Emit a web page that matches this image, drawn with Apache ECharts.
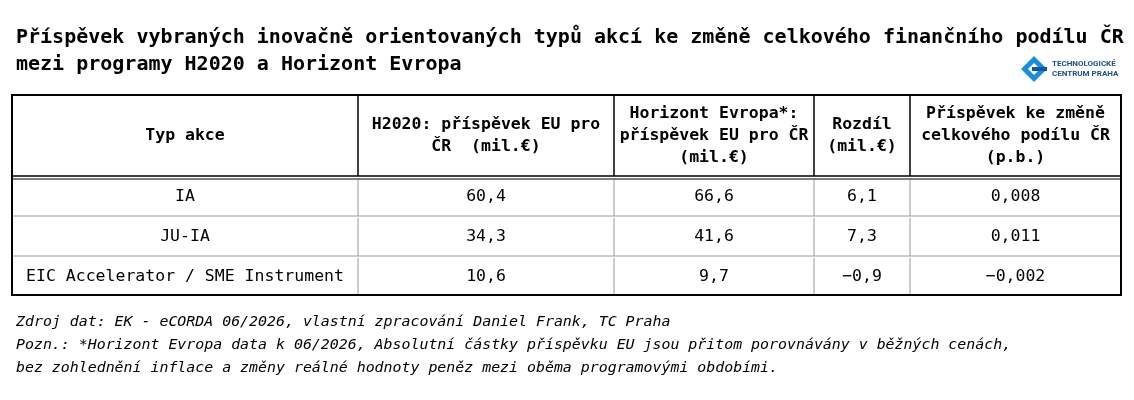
<!DOCTYPE html>
<html><head><meta charset="utf-8">
<script src="https://cdn.jsdelivr.net/npm/echarts@6/dist/echarts.min.js"></script>
<style>html,body{margin:0;padding:0;background:#fff}#c{width:1134px;height:400px}</style>
</head><body><div id="c"></div>
<script>
const title = 'Příspěvek vybraných inovačně orientovaných typů akcí ke změně celkového finančního podílu ČR\nmezi programy H2020 a Horizont Evropa';
const headers = ['Typ akce', 'H2020: příspěvek EU pro\nČR  (mil.€)', 'Horizont Evropa*:\npříspěvek EU pro ČR\n(mil.€)', 'Rozdíl\n(mil.€)', 'Příspěvek ke změně\ncelkového podílu ČR\n(p.b.)'];
const categories = ['IA', 'JU-IA', 'EIC Accelerator / SME Instrument'];
const h2020 = ['60,4', '34,3', '10,6'];
const horizont = ['66,6', '41,6', '9,7'];
const rozdil = ['6,1', '7,3', '−0,9'];
const podil = ['0,008', '0,011', '−0,002'];
const notes = ['Zdroj dat: EK - eCORDA 06/2026, vlastní zpracování Daniel Frank, TC Praha',
  'Pozn.: *Horizont Evropa data k 06/2026, Absolutní částky příspěvku EU jsou přitom porovnávány v běžných cenách,',
  'bez zohlednění inflace a změny reálné hodnoty peněz mezi oběma programovými obdobími.'];

const colEdges = [0, 346, 602, 802, 898, 1109];
const rowEdges = [0, 81, 121, 161, 200];
const FONT = '"DejaVu Sans Mono","Liberation Mono",monospace';

const cells = [];
headers.forEach((h, c) => cells.push([0, c, h]));
categories.forEach((cat, i) => {
  [cat, h2020[i], horizont[i], rozdil[i], podil[i]].forEach((v, c) => cells.push([i + 1, c, v]));
});

const chart = echarts.init(document.getElementById('c'));
chart.setOption({
  animation: false,
  backgroundColor: '#fff',
  title: { text: title, left: 11, top: 19, textStyle: { fontFamily: FONT, fontSize: 20, fontWeight: 'bold', color: '#000', lineHeight: 27 } },
  grid: { left: 12, top: 95, width: 1109, height: 200 },
  xAxis: { type: 'value', min: 0, max: 1109, show: false },
  yAxis: { type: 'value', min: 0, max: 200, inverse: true, show: false },
  graphic: [
    { type: 'group', left: 1021, top: 56, children: [
      { type: 'polygon', shape: { points: [[0,13],[13,0],[26,13],[13,26]] }, style: { fill: '#1a8fd6' } },
      { type: 'polygon', shape: { points: [[7,13],[13,7],[19,13],[13,19]] }, style: { fill: '#fff' } },
      { type: 'rect', shape: { x: 11, y: 11, width: 15, height: 4 }, style: { fill: '#0d5a99' } },
      { type: 'text', x: 31, y: 3, style: { text: 'TECHNOLOGICKÉ\nCENTRUM PRAHA', font: 'bold 8px "Roboto",sans-serif', fill: '#1d4f82', lineHeight: 10 } }
    ]},
    ...notes.map((n, i) => ({ type: 'text', left: 16, top: 315 + i * 23, style: { text: n, font: 'italic 14.9px ' + FONT, fill: '#000' } }))
  ],
  series: [{
    type: 'custom',
    coordinateSystem: 'cartesian2d',
    data: cells,
    clip: false,
    renderItem: function (params, api) {
      const r = api.value(0), c = api.value(1), txt = cells[params.dataIndex][2];
      const p0 = api.coord([colEdges[c], rowEdges[r]]);
      const p1 = api.coord([colEdges[c + 1], rowEdges[r + 1]]);
      const ch = [];
      const header = r === 0;
      ch.push({ type: 'text', style: { text: txt, x: (p0[0] + p1[0]) / 2, y: (p0[1] + p1[1]) / 2 + (header ? 0 : 1), align: 'center', verticalAlign: 'middle', font: (header ? 'bold ' : '') + '16.5px ' + FONT, fill: '#000', lineHeight: 22 } });
      if (c > 0) ch.push({ type: 'line', shape: { x1: p0[0], y1: p0[1] + (header ? 0 : 2), x2: p0[0], y2: p1[1] }, style: { stroke: header ? '#000' : '#999', lineWidth: header ? 1.5 : 1 } });
      if (r >= 2) ch.push({ type: 'line', shape: { x1: p0[0], y1: p0[1], x2: p1[0], y2: p0[1] }, style: { stroke: '#999', lineWidth: 1 } });
      if (r === 1) {
        ch.push({ type: 'line', shape: { x1: p0[0], y1: p0[1], x2: p1[0], y2: p0[1] }, style: { stroke: '#000', lineWidth: 1.5 } });
        ch.push({ type: 'line', shape: { x1: p0[0], y1: p0[1] + 3, x2: p1[0], y2: p0[1] + 3 }, style: { stroke: '#000', lineWidth: 1 } });
      }
      return { type: 'group', children: ch };
    },
    z: 2
  }, {
    type: 'custom', coordinateSystem: 'cartesian2d', data: [[0]], clip: false, silent: true,
    renderItem: function (params, api) {
      const a = api.coord([0, 0]), b = api.coord([1109, 200]);
      return { type: 'rect', shape: { x: a[0], y: a[1], width: b[0] - a[0], height: b[1] - a[1] }, style: { fill: 'none', stroke: '#000', lineWidth: 2 } };
    }, z: 3
  }]
});
</script></body></html>
